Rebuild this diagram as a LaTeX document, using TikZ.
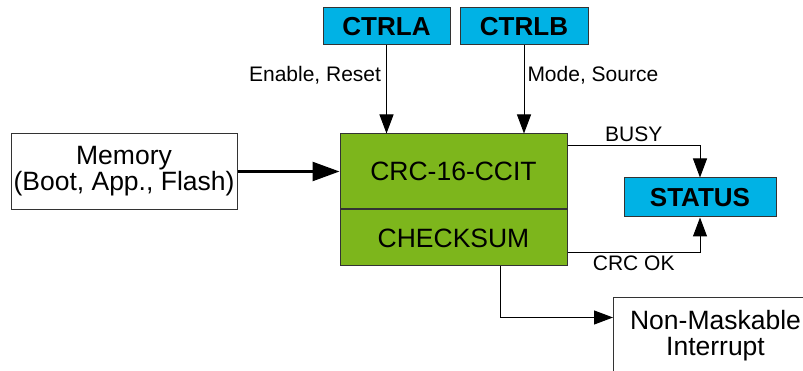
\documentclass[tikz,border=0pt]{standalone}
\usepackage{fontspec}
\setmainfont{Liberation Sans}
\usetikzlibrary{arrows.meta,positioning}
\definecolor{crcgreen}{HTML}{7DB61C}
\definecolor{regblue}{HTML}{00B2E5}
\definecolor{edge}{HTML}{333333}
\tikzset{
  box/.style={draw=edge, line width=1pt, align=center, inner sep=0pt, font=\fontsize{26.5}{26}\selectfont},
  regbox/.style={box, fill=regblue, font=\fontsize{26}{26}\selectfont\bfseries, minimum height=37pt},
  crcbox/.style={box, fill=crcgreen, minimum width=227pt},
  wbox/.style={box, fill=white},
  flow/.style={-{Triangle[length=19pt,width=14pt]}, line width=1pt},
  bigflow/.style={-{Triangle[length=27pt,width=19pt]}, line width=2.5pt},
  lbl/.style={font=\fontsize{21}{22}\selectfont, inner sep=3pt},
}
\begin{document}
\begin{tikzpicture}[x=1pt, y=1pt]
\clip (0,0) rectangle (803,371);
\node[crcbox, minimum height=75pt] (crc) at (453.5,199.5) {CRC-16-CCIT};
\node[crcbox, minimum height=56pt, below=0pt of crc] (chk) {CHECKSUM};
\node[wbox, minimum width=226pt, minimum height=76pt, left=102pt of crc] (mem) {Memory\\(Boot, App., Flash)};
\node[regbox, minimum width=127pt] (ctrla) at (386.5,344.5) {CTRLA};
\node[regbox, minimum width=128pt, right=9pt of ctrla] (ctrlb) {CTRLB};
\node[regbox, minimum width=152pt, minimum height=39pt] (status) at (700,173.5) {STATUS};
\node[wbox, minimum width=204pt, minimum height=76pt, anchor=north west] (nmi) at (613,74) {Non-Maskable\\Interrupt};
\draw[bigflow] (mem) -- (crc);
\draw[flow] (ctrla) -- node[lbl, left, pos=0.34, xshift=-2pt]{Enable, Reset} (ctrla |- crc.north);
\draw[flow] (ctrlb) -- node[lbl, right, pos=0.34]{Mode, Source} (ctrlb |- crc.north);
\draw[flow] ([yshift=-12pt]crc.north east) -| node[lbl, pos=0.25, above]{BUSY} (status);
\draw[flow] ([yshift=14pt]chk.south east) -| node[lbl, pos=0.25, below]{CRC OK} (status);
\draw[flow] ([xshift=47pt]chk.south) |- ([yshift=18pt]nmi.west);
\end{tikzpicture}
\end{document}
